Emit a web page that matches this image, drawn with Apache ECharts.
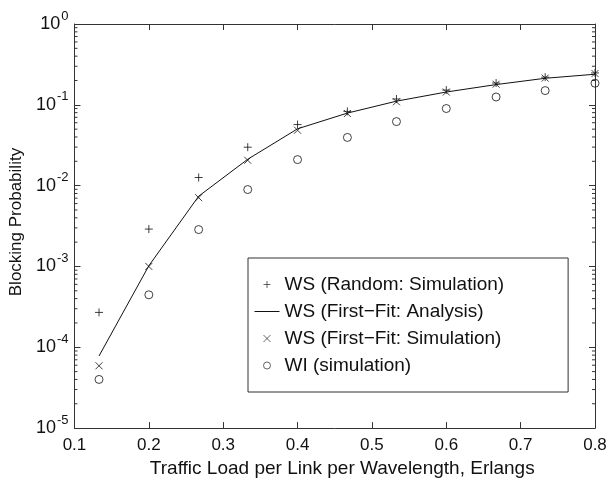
<!DOCTYPE html>
<html>
<head>
<meta charset="utf-8">
<script src="https://cdn.jsdelivr.net/npm/echarts@6/dist/echarts.min.js"></script>
<style>
  html, body { margin: 0; padding: 0; background: #fff; }
  #chart { width: 610px; height: 483px; }
</style>
</head>
<body>
<div id="chart"></div>
<script>
// traffic load per link per wavelength (Erlangs)
const loads = [0.133, 0.2, 0.267, 0.333, 0.4, 0.467, 0.533, 0.6, 0.667, 0.733, 0.8];

// blocking probability
const wsRandomSim = [2.7e-4, 2.9e-3, 1.26e-2, 2.99e-2, 5.7e-2, 8.3e-2, 0.118, 0.152, 0.186, 0.22, 0.248];
const wsFirstFitAnalysis = [7.8e-5, 1.02e-3, 7.4e-3, 2.12e-2, 5.05e-2, 7.9e-2, 0.111, 0.144, 0.178, 0.213, 0.239];
const wsFirstFitSim = [5.9e-5, 1.0e-3, 7.1e-3, 2.06e-2, 4.85e-2, 7.8e-2, 0.109, 0.144, 0.18, 0.214, 0.244];
const wiSim = [4.0e-5, 4.46e-4, 2.86e-3, 8.95e-3, 2.1e-2, 3.95e-2, 6.2e-2, 9.0e-2, 0.125, 0.15, 0.185];

const seriesNames = [
  "WS (Random: Simulation)",
  "WS (First\u2212Fit: Analysis)",
  "WS (First\u2212Fit: Simulation)",
  "WI (simulation)",
];

// minor ticks of the log axis (2..9 x 10^k)
const minorTicks = [
  2e-5, 3e-5, 4e-5, 5e-5, 6e-5, 7e-5, 8e-5, 9e-5,
  2e-4, 3e-4, 4e-4, 5e-4, 6e-4, 7e-4, 8e-4, 9e-4,
  2e-3, 3e-3, 4e-3, 5e-3, 6e-3, 7e-3, 8e-3, 9e-3,
  2e-2, 3e-2, 4e-2, 5e-2, 6e-2, 7e-2, 8e-2, 9e-2,
  0.2, 0.3, 0.4, 0.5, 0.6, 0.7, 0.8, 0.9,
];

const FONT = "Liberation Sans, Arial, Helvetica, sans-serif";
const INK = "#111";
const AXIS = "#333";

const plusPath = "path://M0,5L10,5M5,0L5,10";
const crossPath = "path://M0,0L10,10M10,0L0,10";

function pairs(ys) {
  return loads.map((x, i) => [x, ys[i]]);
}

const chart = echarts.init(document.getElementById("chart"));

const markerStyle = {
  color: "rgba(0,0,0,0)",
  borderColor: INK,
  borderWidth: 1,
};

const option = {
  backgroundColor: "#fff",
  animation: false,
  textStyle: { fontFamily: FONT },
  grid: {
    left: 68,
    right: 15,
    top: 24,
    bottom: 47,
    show: false,
  },
  legend: {
    orient: "vertical",
    left: 248,
    top: 258,
    padding: [17, 64, 17, 6],
    itemGap: 8,
    itemWidth: 25,
    itemHeight: 7,
    symbolKeepAspect: true,
    backgroundColor: "#fff",
    borderColor: AXIS,
    borderWidth: 1,
    borderRadius: 0,
    selectedMode: false,
    lineStyle: { width: 1 },
    textStyle: {
      fontFamily: FONT,
      fontSize: 19,
      lineHeight: 19,
      color: INK,
    },
    data: [
      { name: seriesNames[0], icon: plusPath, itemStyle: { color: "rgba(0,0,0,0)", borderColor: INK, borderWidth: 0.8 } },
      { name: seriesNames[1], itemStyle: { color: "rgba(0,0,0,0)", borderWidth: 0 } },
      { name: seriesNames[2], icon: crossPath, itemStyle: { color: "rgba(0,0,0,0)", borderColor: INK, borderWidth: 0.8 } },
      { name: seriesNames[3], icon: "circle", itemStyle: { color: "rgba(0,0,0,0)", borderColor: INK, borderWidth: 0.8 } },
    ],
  },
  xAxis: [
    {
      type: "value",
      min: 0.1,
      max: 0.8,
      interval: 0.1,
      position: "bottom",
      name: "Traffic Load per Link per Wavelength, Erlangs",
      nameLocation: "middle",
      nameGap: 23,
      nameTextStyle: {
        fontFamily: FONT,
        fontSize: 19,
        color: INK,
        verticalAlign: "top",
        padding: [0, 0, 0, 15],
      },
      axisLine: { show: true, lineStyle: { color: AXIS, width: 1 } },
      axisTick: { show: true, inside: true, length: 6, lineStyle: { color: AXIS } },
      axisLabel: {
        margin: 9,
        fontFamily: FONT,
        fontSize: 17,
        color: INK,
        formatter: (v) => v.toFixed(1),
      },
      splitLine: { show: false },
    },
    {
      type: "value",
      min: 0.1,
      max: 0.8,
      interval: 0.1,
      position: "top",
      axisLine: { show: true, lineStyle: { color: AXIS, width: 1 } },
      axisTick: { show: true, inside: true, length: 6, lineStyle: { color: AXIS } },
      axisLabel: { show: false },
      splitLine: { show: false },
    },
  ],
  yAxis: [
    {
      type: "log",
      logBase: 10,
      min: 1e-5,
      max: 1,
      position: "left",
      name: "Blocking Probability",
      nameLocation: "middle",
      nameGap: 42,
      nameTextStyle: {
        fontFamily: FONT,
        fontSize: 17,
        color: INK,
        padding: [0, 0, 0, 8],
      },
      axisLine: { show: true, lineStyle: { color: AXIS, width: 1 } },
      axisTick: { show: true, inside: true, length: 6, lineStyle: { color: AXIS } },
      axisLabel: {
        margin: 6,
        color: INK,
        formatter: (v) => {
          const e = Math.round(Math.log10(v));
          return "{b|10}{s|" + (e < 0 ? "-" : "") + Math.abs(e) + "}";
        },
        rich: {
          b: { fontFamily: FONT, fontSize: 18, color: INK },
          s: { fontFamily: FONT, fontSize: 13, color: INK, padding: [0, 0, 16, 1] },
        },
      },
      splitLine: { show: false },
    },
    {
      type: "log",
      logBase: 10,
      min: 1e-5,
      max: 1,
      position: "right",
      axisLine: { show: true, lineStyle: { color: AXIS, width: 1 } },
      axisTick: { show: true, inside: true, length: 6, lineStyle: { color: AXIS } },
      axisLabel: { show: false },
      splitLine: { show: false },
    },
  ],
  series: [
    {
      // minor log ticks on the left and right edges
      type: "custom",
      silent: true,
      xAxisIndex: 0,
      yAxisIndex: 0,
      clip: false,
      z: 1,
      data: minorTicks.map((v) => [0.1, v]),
      renderItem: (params, api) => {
        const p = api.coord([0.1, api.value(1)]);
        const cs = params.coordSys;
        const st = { stroke: AXIS, lineWidth: 1 };
        return {
          type: "group",
          children: [
            { type: "line", shape: { x1: cs.x, y1: p[1], x2: cs.x + 3, y2: p[1] }, style: st },
            { type: "line", shape: { x1: cs.x + cs.width - 3, y1: p[1], x2: cs.x + cs.width, y2: p[1] }, style: st },
          ],
        };
      },
    },
    {
      name: seriesNames[1],
      type: "line",
      data: pairs(wsFirstFitAnalysis),
      symbol: "none",
      showSymbol: false,
      lineStyle: { color: INK, width: 1 },
      itemStyle: { color: INK },
      z: 2,
    },
    {
      name: seriesNames[0],
      type: "scatter",
      data: pairs(wsRandomSim),
      symbol: plusPath,
      symbolSize: 8,
      itemStyle: markerStyle,
      z: 3,
    },
    {
      name: seriesNames[2],
      type: "scatter",
      data: pairs(wsFirstFitSim),
      symbol: crossPath,
      symbolSize: 7,
      itemStyle: markerStyle,
      z: 3,
    },
    {
      name: seriesNames[3],
      type: "scatter",
      data: pairs(wiSim),
      symbol: "circle",
      symbolSize: 8,
      itemStyle: markerStyle,
      z: 3,
    },
  ],
};

chart.setOption(option);
</script>
</body>
</html>
